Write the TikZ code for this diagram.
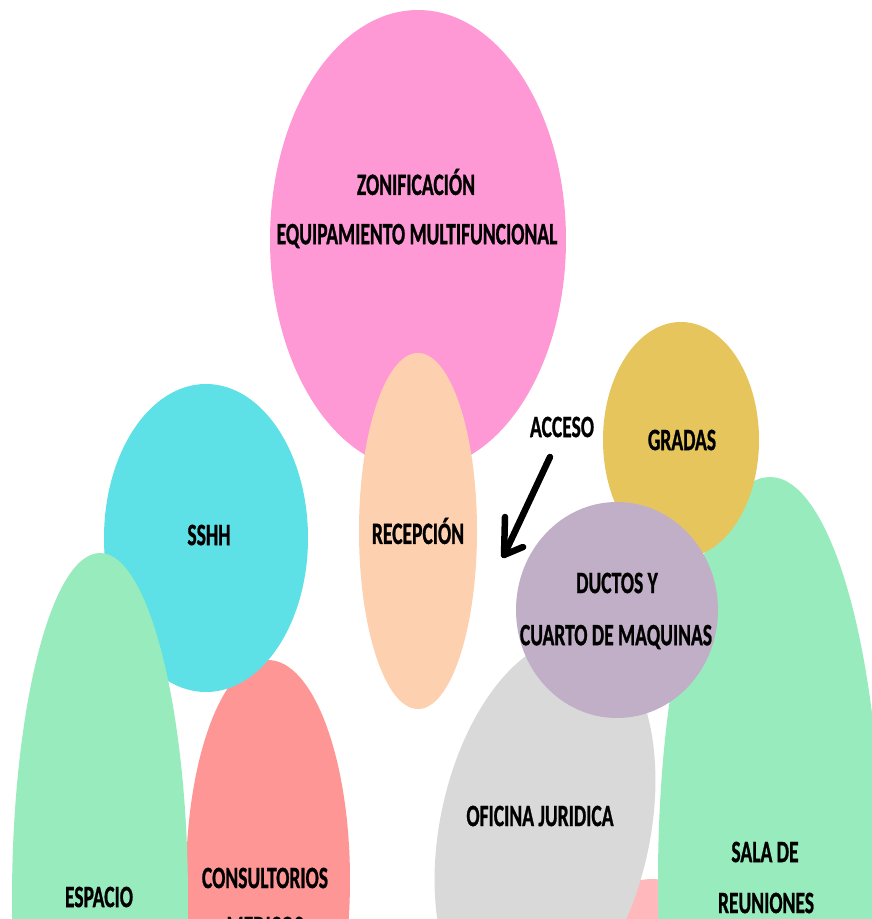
\documentclass[tikz,border=0pt]{standalone}
\usepackage{fontspec}
\setmainfont{Carlito}[BoldFeatures={FakeBold=1.2}]
\definecolor{cpinkbig}{RGB}{255,153,214}
\definecolor{cpeach}{RGB}{253,208,176}
\definecolor{ccyan}{RGB}{93,224,230}
\definecolor{cyellow}{RGB}{230,198,92}
\definecolor{cpurple}{RGB}{192,175,198}
\definecolor{cgreen}{RGB}{152,235,189}
\definecolor{cred}{RGB}{255,150,150}
\definecolor{cgray}{RGB}{217,217,217}
\definecolor{clpink}{RGB}{255,184,188}
\newcommand{\lbltext}[1]{\scalebox{0.63}[1]{#1}}
\tikzset{
  lbl/.style={inner sep=0pt, font=\fontsize{31}{36}\selectfont\bfseries, text=black},
  arrowline/.style={line width=6.5pt, draw=black, line cap=round, line join=round}
}
\begin{document}
\begin{tikzpicture}[x=1pt,y=-1pt]
\useasboundingbox (0,0) rectangle (872,919);
\clip (0,0) rectangle (872,919);
\fill[white] (0,0) rectangle (872,919);
% left group
\fill[cpinkbig] (418,240) ellipse [x radius=148pt, y radius=230pt];
\fill[cpeach] (418,531) ellipse [x radius=59pt, y radius=178pt];
\fill[cred] (268,880) ellipse [x radius=82pt, y radius=220pt];
\fill[ccyan] (206,538) ellipse [x radius=102pt, y radius=154pt];
\fill[cgreen] (100,900) ellipse [x radius=88pt, y radius=347pt];
% right group
\fill[clpink] (652,935) circle [radius=56pt];
\fill[cgray, rotate around={-12:(545,830)}] (545,830) ellipse [x radius=105pt, y radius=195pt];
\fill[cgreen] (770,880) ellipse [x radius=112pt, y radius=403pt];
\fill[cyellow] (681,440) ellipse [x radius=78pt, y radius=118pt];
\fill[cpurple] (617,610) ellipse [x radius=101pt, y radius=108pt];
% arrow
\coordinate (acc1) at (550,457);
\coordinate (acc2) at (504,555);
\draw[arrowline] (acc1) -- (acc2);
\draw[arrowline] ([shift={(1,-38)}]acc2) -- (acc2) -- ([shift={(19,-8)}]acc2);
% labels
\node[lbl] (zon) at (416,182) {\lbltext{ZONIFICACIÓN}};
\node[lbl] (equ) at (417,236) {\lbltext{EQUIPAMIENTO MULTIFUNCIONAL}};
\node[lbl] (rec) at (418,531) {\lbltext{RECEPCIÓN}};
\node[lbl] (ssh) at (209,535) {\lbltext{SSHH}};
\node[lbl] (acc) at (562,427) {\lbltext{ACCESO}};
\node[lbl] (gra) at (682,440) {\lbltext{GRADAS}};
\node[lbl] (duc) at (617,583) {\lbltext{DUCTOS Y}};
\node[lbl] (cua) at (616,637) {\lbltext{CUARTO DE MAQUINAS}};
\node[lbl] (ofi) at (540,816) {\lbltext{OFICINA JURIDICA}};
\node[lbl] (sal) at (765,852) {\lbltext{SALA DE}};
\node[lbl] (reu) at (766,903) {\lbltext{REUNIONES}};
\node[lbl] (con) at (265,878) {\lbltext{CONSULTORIOS}};
\node[lbl] (med) at (265,927) {\lbltext{MEDICOS}};
\node[lbl] (esp) at (99,897) {\lbltext{ESPACIO}};
\end{tikzpicture}
\end{document}
